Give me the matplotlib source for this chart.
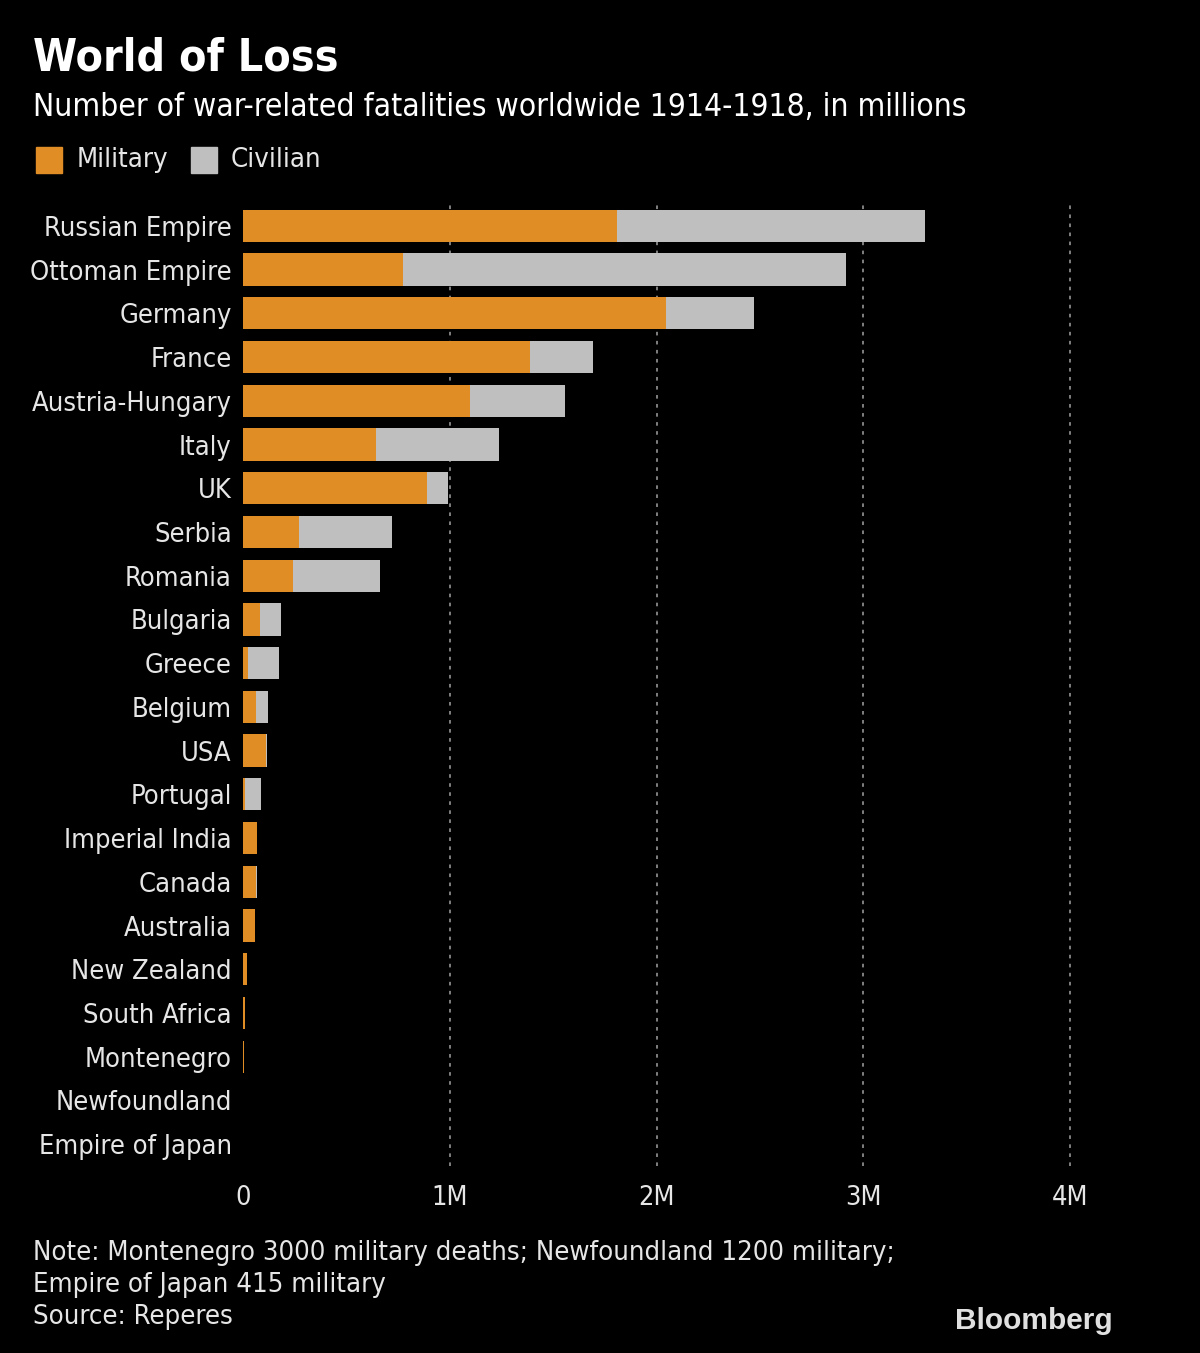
import matplotlib
matplotlib.use("Agg")
import matplotlib.pyplot as plt
from matplotlib.patches import Rectangle

countries = ["Russian Empire", "Ottoman Empire", "Germany", "France", "Austria-Hungary",
             "Italy", "UK", "Serbia", "Romania", "Bulgaria", "Greece", "Belgium", "USA",
             "Portugal", "Imperial India", "Canada", "Australia", "New Zealand",
             "South Africa", "Montenegro", "Newfoundland", "Empire of Japan"]
military = [1.81, 0.774, 2.046, 1.388, 1.098, 0.643, 0.890, 0.271, 0.242, 0.082, 0.024,
            0.063, 0.111, 0.008, 0.068, 0.063, 0.058, 0.018, 0.008, 0.003, 0.0012, 0.000415]
civilian = [1.49, 2.143, 0.426, 0.305, 0.459, 0.595, 0.102, 0.450, 0.421, 0.102, 0.150,
            0.058, 0.007, 0.079, 0.0, 0.003, 0.0, 0.0, 0.0, 0.0, 0.0, 0.0]
xticks = [0, 1, 2, 3, 4]
xtick_labels = ["0", "1M", "2M", "3M", "4M"]

ORANGE = "#E08D26"
GRAY = "#BFBFBF"
TXT = "#E6E6E6"
FONT = ["DejaVu Sans"]

plt.rcParams['font.family'] = FONT
W, H = 1200, 1353
fig = plt.figure(figsize=(W / 100, H / 100), dpi=100, facecolor="black")

n = len(countries)
left, right = 243, 243 + 206.75 * 4.3
top, bottom = 204, 1166
ax = fig.add_axes([left / W, 1 - bottom / H, (right - left) / W, (bottom - top) / H])
ax.set_facecolor("black")
y = list(range(n))
ax.barh(y, military, height=0.74, color=ORANGE, linewidth=0, zorder=3)
ax.barh(y, civilian, left=military, height=0.74, color=GRAY, linewidth=0, zorder=3)
ax.set_ylim(n - 0.5, -0.5)
ax.set_xlim(0, 4.3)
for t in xticks[1:]:
    ax.axvline(t, color="#8A8A8A", linestyle=(0, (2, 3)), linewidth=1.3, zorder=1)
ax.set_xticks(xticks)
ax.set_xticklabels(xtick_labels)
ax.set_yticks(y)
ax.set_yticklabels(countries)
ax.tick_params(axis="x", length=0, pad=14, labelsize=19.5, labelcolor=TXT)
ax.tick_params(axis="y", length=0, pad=8, labelsize=19.5, labelcolor=TXT)
for lab in ax.get_xticklabels() + ax.get_yticklabels():
    lab.set_fontstretch("condensed")
for s in ax.spines.values():
    s.set_visible(False)

fig.text(33 / W, 1 - 58 / H, "World of Loss", color="white", fontsize=32, fontweight="bold",
         va="center", ha="left", fontstretch="condensed")
fig.text(33 / W, 1 - 107 / H, "Number of war-related fatalities worldwide 1914-1918, in millions",
         color="white", fontsize=22.8, va="center", ha="left", fontstretch="condensed")

# legend
fig.patches.append(Rectangle((36 / W, 1 - 173 / H), 26 / W, 26 / H, transform=fig.transFigure,
                             color=ORANGE))
fig.text(77 / W, 1 - 160 / H, "Military", color=TXT, fontsize=19.7, va="center", ha="left",
         fontstretch="condensed")
fig.patches.append(Rectangle((191 / W, 1 - 173 / H), 26 / W, 26 / H, transform=fig.transFigure,
                             color=GRAY))
fig.text(231 / W, 1 - 160 / H, "Civilian", color=TXT, fontsize=19.7, va="center", ha="left",
         fontstretch="condensed")

notes = ["Note: Montenegro 3000 military deaths; Newfoundland 1200 military;",
         "Empire of Japan 415 military",
         "Source: Reperes"]
for i, line in enumerate(notes):
    fig.text(33 / W, 1 - (1253 + i * 32) / H, line, color=TXT, fontsize=19.7, va="center",
             ha="left", fontstretch="condensed")
fig.text(1113 / W, 1 - 1321 / H, "Bloomberg", color="#E0E0E0", fontsize=21.5, fontweight="bold",
         va="center", ha="right", family=["Liberation Sans", "DejaVu Sans"])

fig.savefig("out.png", dpi=100, facecolor="black")
